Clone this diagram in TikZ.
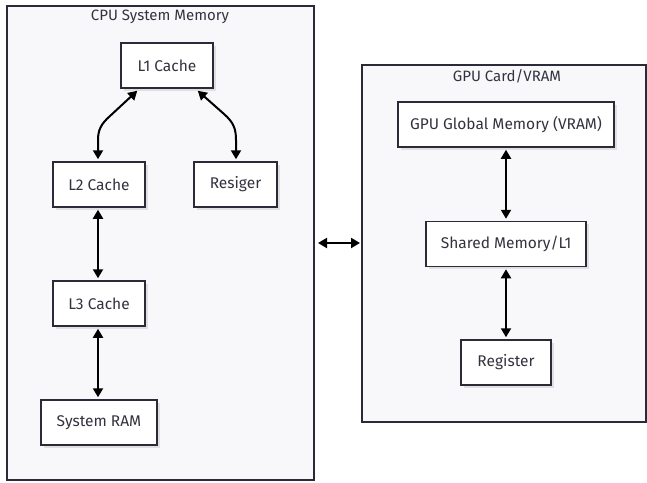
\documentclass[tikz,border=0pt]{standalone}
\usepackage{fontspec}
\setmainfont{Fira Sans}
\usetikzlibrary{arrows.meta,shadows}
\definecolor{edgec}{HTML}{2A2A38}
\definecolor{txtc}{HTML}{33333F}
\definecolor{clfill}{HTML}{F8F8FB}
\begin{document}
\begin{tikzpicture}[x=1pt,y=-1pt,
  box/.style={draw=edgec,line width=1.5pt,fill=white,minimum height=45pt,inner sep=0pt,
    font=\fontsize{15.5}{18}\selectfont,text=txtc,
    drop shadow={shadow xshift=2.5pt,shadow yshift=-2.5pt,fill=black!12,opacity=1}},
  cluster/.style={draw=edgec,line width=1.4pt,fill=clfill},
  ctitle/.style={font=\fontsize{15}{18}\selectfont,text=txtc},
  link/.style={line width=2pt,black,{Triangle[width=10pt,length=9pt]}-{Triangle[width=10pt,length=9pt]}}]
\useasboundingbox (0,0) rectangle (647,482);
\fill[white] (0,0) rectangle (647,482);
% clusters
\draw[cluster] (7,6) rectangle (314,480);
\draw[cluster] (362,65) rectangle (646,422);
\node[ctitle] (cput) at (160,17) {CPU System Memory};
\node[ctitle] (gput) at (507,76) {GPU Card/VRAM};
\coordinate (cpuR) at (314,243);
\coordinate (gpuL) at (362,243);
% nodes
\node[box,minimum width=92pt] (l1) at (167,65.5) {L1 Cache};
\node[box,minimum width=92pt] (l2) at (99,184.5) {L2 Cache};
\node[box,minimum width=83pt] (res) at (235.5,184.5) {Resiger};
\node[box,minimum width=92pt] (l3) at (99,303.5) {L3 Cache};
\node[box,minimum width=116pt] (ram) at (99,422.5) {System RAM};
\node[box,minimum width=216pt] (gvram) at (506,124.5) {GPU Global Memory (VRAM)};
\node[box,minimum width=160pt] (shm) at (506,244) {Shared Memory/L1};
\node[box,minimum width=90pt] (reg) at (506,362.5) {Register};
% edges
\draw[link] ([xshift=17pt,yshift=-2pt]l1.south west) -- (110,116) .. controls (101,124) and (98,130) .. (98,140) -- ([xshift=-1pt,yshift=2pt]l2.north);
\draw[link] ([xshift=-16pt,yshift=-2pt]l1.south east) -- (224,114) .. controls (233,122) and (236,128) .. (236,140) -- ([xshift=0.5pt,yshift=2pt]res.north);
\draw[link] ([xshift=-1pt,yshift=-2pt]l2.south) -- ([xshift=-1pt,yshift=2pt]l3.north);
\draw[link] ([xshift=-1pt,yshift=-2pt]l3.south) -- ([xshift=-1pt,yshift=2pt]ram.north);
\draw[link] ([yshift=-2pt]gvram.south) -- ([yshift=2pt]shm.north);
\draw[link] ([yshift=-2pt]shm.south) -- ([yshift=2pt]reg.north);
\draw[link] ([xshift=4pt]cpuR) -- ([xshift=-2pt]gpuL);
\end{tikzpicture}
\end{document}
